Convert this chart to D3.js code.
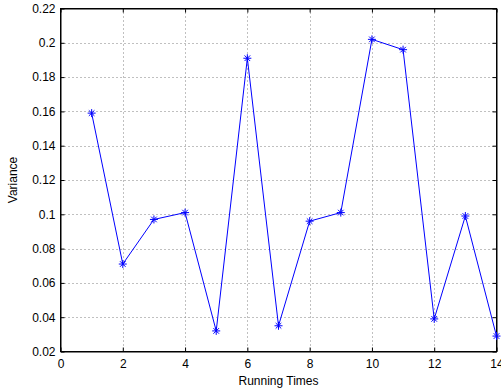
<!DOCTYPE html>
<html>
<head>
<meta charset="utf-8">
<script src="https://cdn.jsdelivr.net/npm/d3@7"></script>
<style>
  body { margin: 0; background: #fff; }
  svg { display: block; font-family: "Liberation Sans", Arial, sans-serif; }
</style>
</head>
<body>
<svg width="501" height="390"></svg>
<script>
const runs = [1, 2, 3, 4, 5, 6, 7, 8, 9, 10, 11, 12, 13, 14];
const variance = [0.159, 0.071, 0.097, 0.101, 0.032, 0.191, 0.035, 0.096, 0.101, 0.202, 0.196, 0.039, 0.099, 0.029];
const xTicks = [0, 2, 4, 6, 8, 10, 12, 14];
const yTicks = [0.02, 0.04, 0.06, 0.08, 0.1, 0.12, 0.14, 0.16, 0.18, 0.2, 0.22];

const svg = d3.select("svg");
const plotL = 60.5, plotR = 496.5, plotT = 8.5, plotB = 351.5;

const x = d3.scaleLinear().domain([0, 14]).range([plotL, plotR]);
const y = d3.scaleLinear().domain([0.02, 0.22]).range([plotB, plotT]);

// grid
const grid = svg.append("g")
    .attr("stroke", "#808080")
    .attr("stroke-width", 1)
    .attr("stroke-dasharray", "1,3");
grid.selectAll("line.gx")
  .data(xTicks.slice(1, -1))
  .enter().append("line")
    .attr("x1", d => Math.round(x(d)) + 0.5).attr("x2", d => Math.round(x(d)) + 0.5)
    .attr("y1", plotT).attr("y2", plotB);
grid.selectAll("line.gy")
  .data(yTicks.slice(1, -1))
  .enter().append("line")
    .attr("y1", d => Math.round(y(d)) + 0.5).attr("y2", d => Math.round(y(d)) + 0.5)
    .attr("x1", plotL).attr("x2", plotR);

// axes with inner ticks
svg.append("g")
    .attr("transform", `translate(0,${plotB})`)
    .call(d3.axisBottom(x).tickValues(xTicks).tickSizeInner(-4).tickSizeOuter(0).tickPadding(8))
    .call(g => g.selectAll("text").attr("font-size", 12).attr("fill", "#000"));
svg.append("g")
    .attr("transform", `translate(${plotL},0)`)
    .call(d3.axisLeft(y).tickValues(yTicks).tickFormat(d => +d.toFixed(2)).tickSizeInner(-4).tickSizeOuter(0).tickPadding(5))
    .call(g => g.selectAll("text").attr("font-size", 12).attr("fill", "#000"));
svg.append("g")
    .attr("transform", `translate(0,${plotT})`)
    .call(d3.axisTop(x).tickValues(xTicks).tickSizeInner(-4).tickSizeOuter(0).tickFormat(""));
svg.append("g")
    .attr("transform", `translate(${plotR},0)`)
    .call(d3.axisRight(y).tickValues(yTicks).tickSizeInner(-4).tickSizeOuter(0).tickFormat(""));
svg.selectAll(".domain").attr("stroke", "#000");
svg.selectAll(".tick line").attr("stroke", "#000");

svg.append("rect")
    .attr("x", plotL).attr("y", plotT)
    .attr("width", plotR - plotL).attr("height", plotB - plotT)
    .attr("fill", "none").attr("stroke", "#000");

// line
const line = d3.line()
    .x((d, i) => x(runs[i]))
    .y(d => y(d));
svg.append("path")
    .datum(variance)
    .attr("d", line)
    .attr("fill", "none")
    .attr("stroke", "#0000ff")
    .attr("stroke-width", 1);

// star markers
svg.selectAll("path.mark")
  .data(variance)
  .enter().append("path")
    .attr("class", "mark")
    .attr("transform", (d, i) => `translate(${x(runs[i])},${y(d)})`)
    .attr("d", () => {
      const r = 4;
      return `M${-r},0H${r}M0,${-r}V${r}M${-r*0.7},${-r*0.7}L${r*0.7},${r*0.7}M${-r*0.7},${r*0.7}L${r*0.7},${-r*0.7}`;
    })
    .attr("stroke", "#0000ff")
    .attr("stroke-width", 1)
    .attr("fill", "none");

// labels
svg.append("text")
    .attr("x", (plotL + plotR) / 2).attr("y", 385)
    .attr("text-anchor", "middle")
    .attr("font-size", 12)
    .text("Running Times");
svg.append("text")
    .attr("transform", `translate(17,${(plotT + plotB) / 2}) rotate(-90)`)
    .attr("text-anchor", "middle")
    .attr("font-size", 12)
    .text("Variance");
</script>
</body>
</html>
